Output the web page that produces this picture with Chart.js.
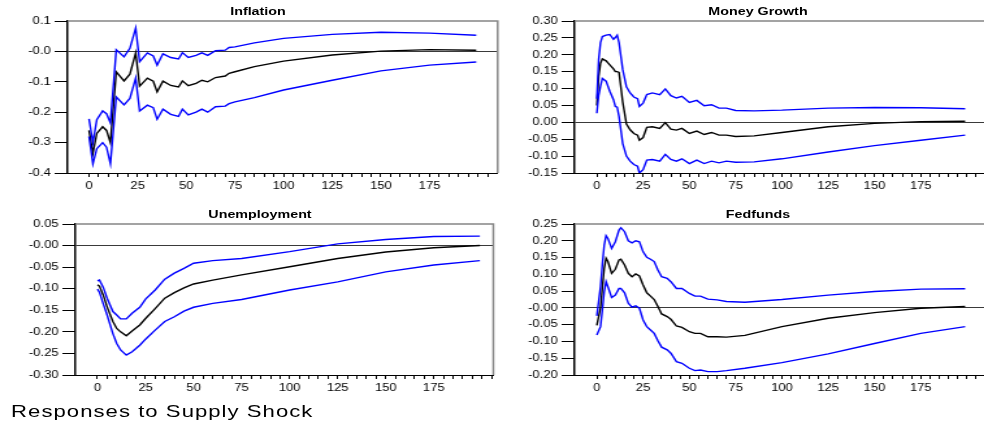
<!DOCTYPE html>
<html>
<head>
<meta charset="utf-8">
<title>Responses to Supply Shock</title>
<script src="https://cdn.jsdelivr.net/npm/chart.js@4.4.1/dist/chart.umd.min.js"></script>
<style>
  html, body { margin: 0; padding: 0; background: #fff; overflow: hidden; }
  body { width: 984px; height: 428px; position: relative; }
  /* whole sheet is drawn narrow and stretched sideways */
  #sheet {
    position: absolute; left: 0; top: 0; width: 757px; height: 428px;
    transform: scaleX(1.3); transform-origin: 0 0;
    font-family: 'Liberation Sans', Arial, sans-serif; color: #000;
  }
  .panel { position: absolute; }
  .ttl {
    position: absolute; width: 200px; text-align: center;
    font-weight: bold; font-size: 11px; line-height: 12px;
  }
  #caption {
    position: absolute; left: 8.5px; top: 402px;
    font-size: 17px; line-height: 20px; letter-spacing: 0.8px; white-space: nowrap;
  }
</style>
</head>
<body>
<div id="sheet">
  <div class="ttl" id="t-infl">Inflation</div>
  <div class="ttl" id="t-money">Money Growth</div>
  <div class="ttl" id="t-unemp">Unemployment</div>
  <div class="ttl" id="t-fed">Fedfunds</div>
  <div class="panel" id="p-infl"><canvas id="c-infl"></canvas></div>
  <div class="panel" id="p-money"><canvas id="c-money"></canvas></div>
  <div class="panel" id="p-unemp"><canvas id="c-unemp"></canvas></div>
  <div class="panel" id="p-fed"><canvas id="c-fed"></canvas></div>
  <div id="caption">Responses to Supply Shock</div>
</div>

<script>
// ============ DATA ============
// Horizons (periods after the shock) and responses: median + error bands

const inflH   = [0, 2, 4, 7, 9, 11, 14, 18, 21, 24, 26, 30, 33, 35, 38, 42, 46, 48, 51, 55, 58, 61, 65, 70, 72, 75, 85, 100, 125, 150, 175, 199];
const inflMid = [-0.26, -0.335, -0.27, -0.248, -0.26, -0.30, -0.067, -0.097, -0.075, -0.005, -0.114, -0.088, -0.098, -0.133, -0.098, -0.112, -0.117, -0.097, -0.113, -0.105, -0.095, -0.10, -0.086, -0.081, -0.072, -0.067, -0.05, -0.032, -0.012, 0.001, 0.006, 0.004];
const inflHi  = [-0.222, -0.30, -0.225, -0.196, -0.205, -0.235, 0.005, -0.018, 0.01, 0.077, -0.034, -0.005, -0.015, -0.045, -0.008, -0.02, -0.025, -0.004, -0.02, -0.013, -0.005, -0.013, 0.002, 0.004, 0.013, 0.015, 0.028, 0.043, 0.056, 0.063, 0.06, 0.053];
const inflLo  = [-0.28, -0.37, -0.32, -0.30, -0.315, -0.37, -0.15, -0.176, -0.155, -0.088, -0.196, -0.177, -0.185, -0.223, -0.19, -0.207, -0.214, -0.19, -0.209, -0.2, -0.19, -0.2, -0.182, -0.18, -0.172, -0.166, -0.152, -0.127, -0.095, -0.064, -0.045, -0.035];

const moneyH   = [0, 1, 2, 3, 5, 7, 9, 10, 11, 12, 14, 16, 18, 20, 22, 23, 25, 27, 30, 34, 37, 40, 43, 46, 50, 54, 58, 62, 66, 70, 75, 85, 100, 125, 150, 175, 199];
const moneyMid = [0.05, 0.136, 0.175, 0.188, 0.182, 0.17, 0.158, 0.15, 0.15, 0.148, 0.06, -0.005, -0.022, -0.033, -0.038, -0.053, -0.045, -0.015, -0.013, -0.018, -0.001, -0.02, -0.023, -0.018, -0.033, -0.026, -0.036, -0.03, -0.038, -0.038, -0.042, -0.04, -0.03, -0.013, -0.003, 0.002, 0.003];
const moneyHi  = [0.07, 0.186, 0.236, 0.254, 0.258, 0.26, 0.246, 0.251, 0.258, 0.236, 0.156, 0.105, 0.087, 0.075, 0.07, 0.047, 0.057, 0.082, 0.087, 0.082, 0.099, 0.079, 0.072, 0.077, 0.059, 0.065, 0.049, 0.052, 0.042, 0.042, 0.035, 0.034, 0.036, 0.042, 0.044, 0.043, 0.04];
const moneyLo  = [0.027, 0.08, 0.107, 0.13, 0.122, 0.092, 0.067, 0.047, 0.045, 0.017, -0.063, -0.1, -0.115, -0.125, -0.13, -0.15, -0.14, -0.112, -0.11, -0.115, -0.095, -0.11, -0.115, -0.108, -0.122, -0.112, -0.122, -0.115, -0.12, -0.115, -0.118, -0.117, -0.108, -0.088, -0.069, -0.053, -0.038];

const unempH   = [0, 1, 3, 5, 8, 10, 12, 15, 18, 22, 25, 30, 35, 40, 45, 50, 60, 75, 100, 125, 150, 175, 199];
const unempMid = [-0.091, -0.094, -0.115, -0.142, -0.176, -0.192, -0.2, -0.209, -0.198, -0.184, -0.169, -0.146, -0.122, -0.109, -0.098, -0.089, -0.08, -0.068, -0.049, -0.03, -0.015, -0.005, 0.0];
const unempHi  = [-0.082, -0.08, -0.097, -0.122, -0.153, -0.161, -0.17, -0.17, -0.157, -0.143, -0.124, -0.103, -0.078, -0.064, -0.053, -0.041, -0.035, -0.03, -0.014, 0.004, 0.014, 0.021, 0.022];
const unempLo  = [-0.101, -0.108, -0.135, -0.161, -0.204, -0.227, -0.242, -0.254, -0.246, -0.231, -0.217, -0.196, -0.176, -0.165, -0.152, -0.143, -0.134, -0.125, -0.103, -0.084, -0.061, -0.045, -0.035];

const fedH   = [0, 2, 3, 4, 5, 6, 8, 10, 12, 13, 15, 17, 19, 21, 23, 25, 27, 29, 31, 33, 35, 38, 40, 43, 46, 50, 53, 56, 60, 65, 70, 80, 100, 125, 150, 175, 199];
const fedMid = [-0.052, 0.0, 0.06, 0.118, 0.148, 0.138, 0.103, 0.115, 0.143, 0.145, 0.128, 0.103, 0.093, 0.101, 0.095, 0.068, 0.045, 0.035, 0.025, 0.004, -0.018, -0.026, -0.034, -0.054, -0.058, -0.071, -0.076, -0.076, -0.086, -0.086, -0.087, -0.082, -0.056, -0.031, -0.014, -0.001, 0.004];
const fedHi  = [-0.024, 0.063, 0.13, 0.187, 0.215, 0.207, 0.177, 0.197, 0.232, 0.239, 0.227, 0.2, 0.194, 0.2, 0.197, 0.167, 0.151, 0.145, 0.138, 0.113, 0.093, 0.088, 0.078, 0.058, 0.058, 0.043, 0.035, 0.035, 0.026, 0.024, 0.019, 0.017, 0.025, 0.038, 0.049, 0.056, 0.057];
const fedLo  = [-0.081, -0.056, -0.006, 0.048, 0.078, 0.063, 0.031, 0.038, 0.058, 0.058, 0.045, 0.014, 0.002, 0.006, -0.001, -0.036, -0.056, -0.066, -0.076, -0.098, -0.117, -0.125, -0.135, -0.16, -0.165, -0.18, -0.187, -0.185, -0.19, -0.19, -0.187, -0.18, -0.163, -0.137, -0.106, -0.076, -0.056];

// Axis ticks
const xLabelTicks = [0, 25, 50, 75, 100, 125, 150, 175];
const xMinorStep = 5;
const xMinorLast = 205;

const inflYTicks  = [0.1, 0, -0.1, -0.2, -0.3, -0.4];
const inflYLabels = ['0.1', '-0.0', '-0.1', '-0.2', '-0.3', '-0.4'];
const moneyYTicks  = [0.30, 0.25, 0.20, 0.15, 0.10, 0.05, 0, -0.05, -0.10, -0.15];
const moneyYLabels = ['0.30', '0.25', '0.20', '0.15', '0.10', '0.05', '0.00', '-0.05', '-0.10', '-0.15'];
const unempYTicks  = [0.05, 0, -0.05, -0.10, -0.15, -0.20, -0.25, -0.30];
const unempYLabels = ['0.05', '-0.00', '-0.05', '-0.10', '-0.15', '-0.20', '-0.25', '-0.30'];
const fedYTicks  = [0.25, 0.20, 0.15, 0.10, 0.05, 0, -0.05, -0.10, -0.15, -0.20];
const fedYLabels = ['0.25', '0.20', '0.15', '0.10', '0.05', '-0.00', '-0.05', '-0.10', '-0.15', '-0.20'];

// ============ LAYOUT ============
const SX = 1.3;          // sideways stretch of #sheet
const AXIS_W = 40;       // room left of the plot for y labels
const AXIS_H = 27;       // room under the plot for x labels
const PAD_TOP = 12;
const PAD_RIGHT = 3;
const FONT = "'Liberation Sans', Arial, sans-serif";

// plot rectangles in page pixels, titles by centre
const panels = {
  infl:  { left: 67,  right: 497, top: 21,  bottom: 173, xMin: -11,   xMax: 210, tx: 258, ty: 11 },
  money: { left: 574, right: 985, top: 21,  bottom: 173, xMin: -12,   xMax: 210, tx: 758, ty: 11 },
  unemp: { left: 75,  right: 493, top: 224, bottom: 375, xMin: -11.5, xMax: 206, tx: 260, ty: 214 },
  fed:   { left: 574, right: 985, top: 224, bottom: 375, xMin: -12,   xMax: 210, tx: 758, ty: 214 },
};

const $ = (id) => document.getElementById(id);

// gray top and right edges of the box
const framePlugin = {
  id: 'frame',
  afterDraw(chart) {
    const { ctx, chartArea: a } = chart;
    ctx.save();
    ctx.strokeStyle = '#858585';
    ctx.lineWidth = 1.5;
    ctx.beginPath();
    ctx.moveTo(a.left, a.top);
    ctx.lineTo(a.right, a.top);
    ctx.lineTo(a.right, a.bottom);
    ctx.stroke();
    ctx.restore();
  }
};

function xTickValues() {
  const vals = [];
  for (let v = 0; v <= xMinorLast; v += xMinorStep) vals.push(v);
  return vals;
}

function pts(h, ys) {
  return h.map((x, i) => ({ x: x, y: ys[i] }));
}

function line(data, color) {
  return {
    data: data,
    borderColor: color,
    borderWidth: 1.4,
    pointRadius: 0,
    tension: 0,
    fill: false,
  };
}

function makePanel(key, hor, mid, hi, lo, yTicks, yLabels) {
  const p = panels[key];
  const plotL = p.left / SX, plotR = p.right / SX;
  const boxL = plotL - AXIS_W;
  const boxT = p.top - PAD_TOP;
  const box = $('p-' + key);
  box.style.left = boxL + 'px';
  box.style.top = boxT + 'px';
  box.style.width = (plotR - boxL + PAD_RIGHT) + 'px';
  box.style.height = (p.bottom - boxT + AXIS_H) + 'px';

  const ttl = $('t-' + key);
  ttl.style.left = (p.tx / SX - 100) + 'px';
  ttl.style.top = (p.ty - 6) + 'px';

  const yMin = Math.min(...yTicks), yMax = Math.max(...yTicks);

  return new Chart($('c-' + key), {
    type: 'line',
    data: {
      datasets: [
        line(pts(hor, hi), '#0000ff'),
        line(pts(hor, lo), '#0000ff'),
        line(pts(hor, mid), '#000000'),
      ]
    },
    options: {
      responsive: true,
      maintainAspectRatio: false,
      animation: false,
      events: [],
      layout: { padding: { top: PAD_TOP, right: PAD_RIGHT, left: 0, bottom: 0 } },
      plugins: { legend: { display: false }, tooltip: { enabled: false } },
      scales: {
        x: {
          type: 'linear',
          min: p.xMin,
          max: p.xMax,
          afterBuildTicks: (s) => { s.ticks = xTickValues().map(v => ({ value: v })); },
          afterFit: (s) => { s.height = AXIS_H; },
          ticks: {
            autoSkip: false,
            maxRotation: 0,
            padding: 3,
            color: '#000',
            font: { family: FONT, size: 10 },
            callback: (v) => xLabelTicks.includes(v) ? String(v) : '',
          },
          grid: { drawOnChartArea: false, drawTicks: true, tickLength: 4, tickColor: '#000', tickWidth: 1 },
          border: { color: '#000', width: 1 },
        },
        y: {
          min: yMin,
          max: yMax,
          afterBuildTicks: (s) => { s.ticks = yTicks.map(v => ({ value: v })); },
          afterFit: (s) => { s.width = AXIS_W; },
          ticks: {
            padding: 3,
            color: '#000',
            font: { family: FONT, size: 10 },
            callback: (v) => {
              const i = yTicks.findIndex(t => Math.abs(t - v) < 1e-9);
              return i >= 0 ? yLabels[i] : '';
            },
          },
          grid: {
            drawTicks: true,
            tickLength: 10,
            tickColor: '#000',
            lineWidth: 1,
            color: (c) => (c.tick && Math.abs(c.tick.value) < 1e-9) ? '#3a3a3a' : 'rgba(0,0,0,0)',
          },
          border: { color: '#000', width: 1.5 },
        }
      }
    },
    plugins: [framePlugin]
  });
}

// ============ RENDER ============
makePanel('infl',  inflH,  inflMid,  inflHi,  inflLo,  inflYTicks,  inflYLabels);
makePanel('money', moneyH, moneyMid, moneyHi, moneyLo, moneyYTicks, moneyYLabels);
makePanel('unemp', unempH, unempMid, unempHi, unempLo, unempYTicks, unempYLabels);
makePanel('fed',   fedH,   fedMid,   fedHi,   fedLo,   fedYTicks,   fedYLabels);
</script>
</body>
</html>
